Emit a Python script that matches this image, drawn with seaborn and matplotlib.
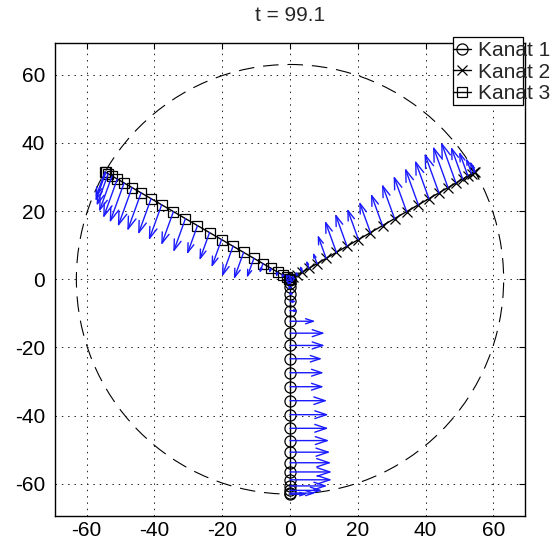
import numpy as np
import matplotlib
matplotlib.use("Agg")
import matplotlib.pyplot as plt
from matplotlib.patches import Circle, Rectangle
import pandas as pd
import seaborn as sns

# ---- values --------------------------------------------------------------
title_text = "t = 99.1"
cable_names = ["Kanat 1", "Kanat 2", "Kanat 3"]
cable_angles_deg = [270.0, 30.0, 150.0]
cable_markers = ["o", "x", "s"]

# radial position of every node along a blade
node_radii = [0.0, 0.3, 1.1, 2.4, 4.2, 6.5, 9.2, 12.3, 15.8, 19.4, 23.3, 27.4,
              31.5, 35.6, 39.7, 43.7, 47.3, 50.7, 53.8, 56.5, 58.8, 60.6,
              61.9, 62.7, 63.0]

# length of the load vector at every node
arrow_len_1 = [0.0, 0.2, 0.5, 0.8, 1.2, 1.8, 2.5, 7.5, 10.3, 10.3, 9.5, 10.0,
               10.0, 11.0, 11.4, 11.4, 11.6, 11.9, 12.2, 12.4, 12.4, 11.0,
               9.5, 7.5, 5.0]
arrow_len_2 = [0.0, 0.3, 0.6, 1.2, 2.0, 2.5, 3.5, 7.3, 9.9, 10.2, 9.7, 9.7,
               10.0, 10.8, 11.2, 11.5, 12.0, 12.4, 12.9, 12.8, 10.1, 7.6,
               4.9, 3.5, 2.5]
arrow_len_3 = [0.0, 0.3, 0.6, 1.0, 1.5, 1.5, 3.0, 6.1, 8.4, 9.5, 8.7, 8.7,
               9.0, 10.5, 10.5, 11.1, 11.2, 11.9, 12.2, 12.4, 12.2, 11.2,
               10.0, 9.0, 8.0]
arrow_dir_deg = [0.0, 110.0, 250.0]

rotor_radius = 63.0
axis_limit = 69.3
tick_values = [-60, -40, -20, 0, 20, 40, 60]

# ---- style ---------------------------------------------------------------
sns.set_theme(style="white")
plt.rcParams["font.family"] = ["Liberation Sans", "DejaVu Sans"]
plt.rcParams["font.size"] = 15
plt.rcParams["axes.unicode_minus"] = False

W, H = 559, 553
fig = plt.figure(figsize=(W / 100, H / 100), dpi=100)
ax = fig.add_axes([55 / W, 1 - 515.6 / H, 470 / W, 472.6 / H])

# rotor disc outline
ax.add_patch(Circle((0, 0), rotor_radius, fill=False, edgecolor="black",
                    lw=0.8, linestyle=(0, (14, 8)), zorder=2))

radii = np.array(node_radii)
arrow_lens = [arrow_len_1, arrow_len_2, arrow_len_3]
marker_sizes = [8.0, 7.5, 7.5]

for name, ang, mk, ms in zip(cable_names, cable_angles_deg, cable_markers,
                             marker_sizes):
    th = np.deg2rad(ang)
    df = pd.DataFrame({"x": radii * np.cos(th), "y": radii * np.sin(th)})
    sns.lineplot(data=df, x="x", y="y", sort=False, estimator=None, ax=ax,
                 color="black", lw=1.0, marker=mk, markersize=ms,
                 markerfacecolor="none", markeredgecolor="black",
                 markeredgewidth=0.9, label=name, zorder=3)

# load vectors at the nodes
for ang, dirdeg, lens in zip(cable_angles_deg, arrow_dir_deg, arrow_lens):
    th = np.deg2rad(ang)
    ph = np.deg2rad(dirdeg)
    for r, L in zip(node_radii, lens):
        if L <= 0:
            continue
        x0, y0 = r * np.cos(th), r * np.sin(th)
        x1, y1 = x0 + L * np.cos(ph), y0 + L * np.sin(ph)
        Lpt = L * 2.45
        hl = max(1.5, 0.3 * Lpt)
        hw = max(0.6, 0.1 * Lpt)
        ax.annotate("", xy=(x1, y1), xytext=(x0, y0),
                    arrowprops=dict(arrowstyle=f"->,head_length={hl},head_width={hw}",
                                    color="#1a1aff", lw=1.0, shrinkA=0, shrinkB=0,
                                    mutation_scale=1),
                    zorder=4)

leg = ax.get_legend()
if leg is not None:
    leg.remove()

ax.set_xlim(-axis_limit, axis_limit)
ax.set_ylim(-axis_limit, axis_limit)
ax.set_xticks(tick_values)
ax.set_yticks(tick_values)
ax.set_xlabel("")
ax.set_ylabel("")
ax.set_title(title_text, fontsize=15, pad=16)

ax.grid(True, color="#222222", lw=0.7, linestyle=(0, (1.5, 5)))
ax.tick_params(direction="in", length=4, width=0.8, colors="black",
               labelsize=15, top=True, right=True)
ax.tick_params(axis="x", pad=4)
ax.tick_params(axis="y", pad=7)
for s in ax.spines.values():
    s.set_visible(True)
    s.set_color("black")
    s.set_linewidth(1.0)

# legend box and entries
box = Rectangle((452.7 / W, 1 - 105 / H), 70 / W, 68.3 / H,
                transform=fig.transFigure, facecolor="white",
                edgecolor="black", lw=0.9, zorder=3)
fig.add_artist(box)
handles, labels = ax.get_legend_handles_labels()
fig.legend(handles, labels, loc="upper left",
           bbox_to_anchor=(453 / W, 1 - 41 / H), bbox_transform=fig.transFigure,
           frameon=False, fontsize=15, handlelength=0.87, handletextpad=0.34,
           borderpad=0, borderaxespad=0, labelspacing=0.12)

fig.savefig("out.png", dpi=100)
